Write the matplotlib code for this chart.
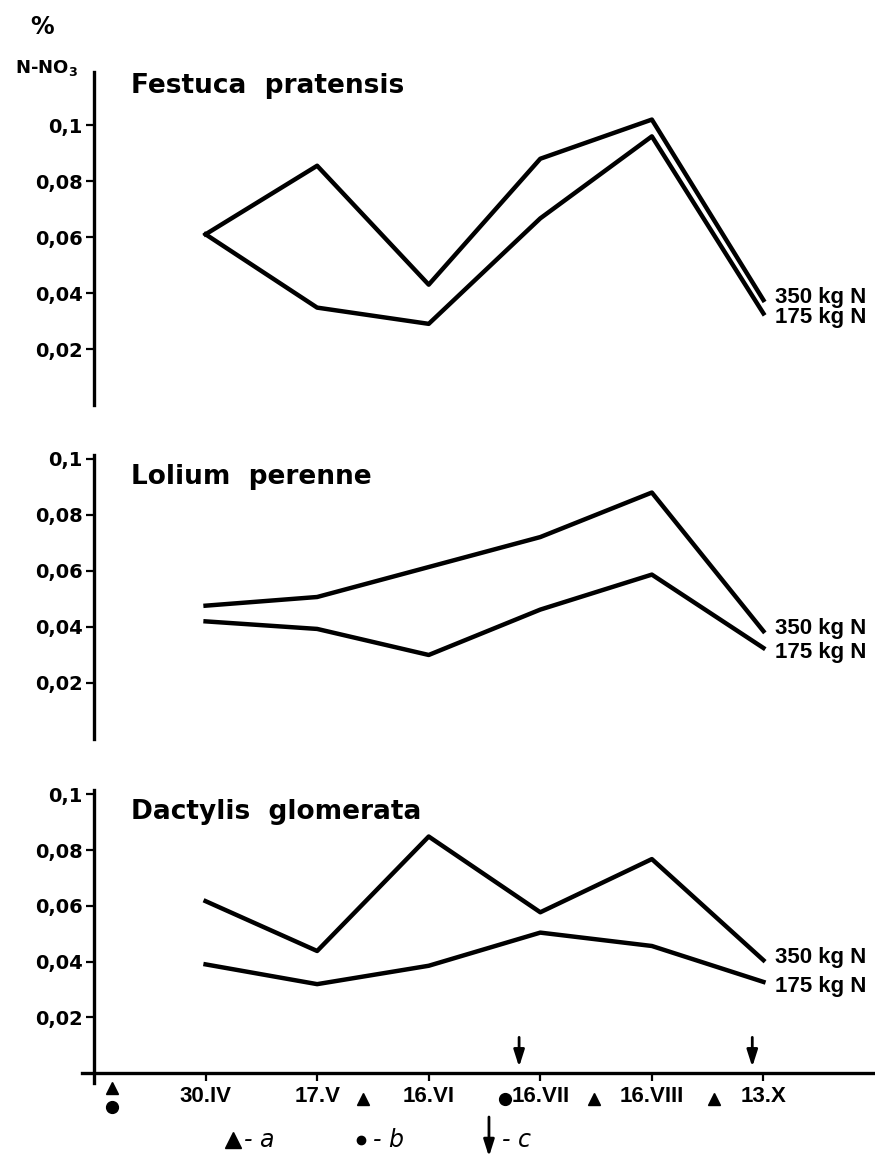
import numpy as np
import matplotlib.pyplot as plt

# harvest dates on the x axis
dates = ['30.IV', '17.V', '16.VI', '16.VII', '16.VIII', '13.X']
x_pos = [1, 2, 3, 4, 5, 6]

species = ['Festuca  pratensis', 'Lolium  perenne', 'Dactylis  glomerata']

# % N-NO3
n350 = [
    [0.061, 0.0855, 0.043, 0.088, 0.102, 0.0375],
    [0.0476, 0.0507, 0.0614, 0.0721, 0.088, 0.0385],
    [0.0617, 0.0438, 0.0849, 0.0577, 0.0768, 0.0405],
]
n175 = [
    [0.061, 0.0348, 0.029, 0.0667, 0.096, 0.0327],
    [0.042, 0.0393, 0.030, 0.0462, 0.0587, 0.0325],
    [0.039, 0.0319, 0.0385, 0.0504, 0.0456, 0.0327],
]
dose_labels = ['350 kg N', '175 kg N']

yticks = [0.02, 0.04, 0.06, 0.08, 0.1]
ytick_labels = ['0,02', '0,04', '0,06', '0,08', '0,1']

# events under the time axis (a = triangle, b = dot, c = arrow)
event_a = [0.16, 2.41, 4.48, 5.56]
event_b = [0.16, 3.68]
event_c = [3.81, 5.90]

narrow = ['Liberation Sans', 'DejaVu Sans']

W, H = 875, 1156
fig = plt.figure(figsize=(W / 100, H / 100), dpi=100)

def frac(px_x, px_y):
    return px_x / W, 1 - px_y / H

left = 94 / W
width = 1 - left
# (bottom px, top px, y top value)
panels = [(405, 72, 0.119), (739, 455, 0.1014), (1073, 790, 0.1016)]
title_y = [0.114, 0.0936, 0.0937]

axes = []
for i, (b, t, ytop) in enumerate(panels):
    ax = fig.add_axes([left, 1 - b / H, width, (b - t) / H])
    ax.set_xlim(0, 7)
    ax.set_ylim(0, ytop)
    for s in ['top', 'right', 'bottom']:
        ax.spines[s].set_visible(False)
    ax.spines['left'].set_linewidth(2.4)
    ax.set_yticks(yticks)
    ax.set_yticklabels(ytick_labels, fontsize=14, fontweight='bold')
    ax.tick_params(axis='y', length=6, width=1.6, pad=2)
    ax.set_xticks([])
    ax.set_facecolor('none')

    ax.plot(x_pos, n350[i], color='black', lw=3.2, solid_joinstyle='round')
    ax.plot(x_pos, n175[i], color='black', lw=3.2, solid_joinstyle='round')

    ax.annotate(dose_labels[0], (x_pos[-1], n350[i][-1]), xytext=(8, 2),
                textcoords='offset points', fontsize=16, va='center',
                family=narrow, fontweight='bold')
    ax.annotate(dose_labels[1], (x_pos[-1], n175[i][-1]), xytext=(8, -3),
                textcoords='offset points', fontsize=16, va='center',
                family=narrow, fontweight='bold')

    ax.text(0.33, title_y[i], species[i], fontsize=19, fontweight='bold',
            va='center', ha='left')
    axes.append(ax)

ax3 = axes[2]
ax3.spines['bottom'].set_visible(True)
ax3.spines['bottom'].set_linewidth(2.4)
ax3.spines['bottom'].set_bounds(-0.11, 7)
ax3.spines['left'].set_bounds(-0.0035, panels[2][2])
ax3.set_xticks(x_pos)
ax3.set_xticklabels(dates, fontsize=16, fontweight='bold', family=narrow)
ax3.tick_params(axis='x', length=6, width=1.6, pad=3)

# event markers under the axis
a_y = [-0.0054] + [-0.0092] * (len(event_a) - 1)
b_y = [-0.0122] + [-0.0092] * (len(event_b) - 1)
ax3.plot(event_a, a_y, ls='none', marker='^', ms=9, color='black', clip_on=False)
ax3.plot(event_b, b_y, ls='none', marker='o', ms=8.5, color='black', clip_on=False)
arrow = dict(arrowstyle='-|>,head_length=1.0,head_width=0.32', color='black', lw=2.0)
for xc in event_c:
    ax3.annotate('', xy=(xc, 0.0012), xytext=(xc, 0.0138), arrowprops=arrow)

# legend row
leg_y = -0.024
ax3.plot([1.245], [leg_y], ls='none', marker='^', ms=11, color='black', clip_on=False)
ax3.text(1.34, leg_y, '- a', fontsize=17, style='italic', va='center')
ax3.plot([2.39], [leg_y], ls='none', marker='o', ms=6, color='black', clip_on=False)
ax3.text(2.50, leg_y, '- b', fontsize=17, style='italic', va='center')
ax3.annotate('', xy=(3.54, -0.031), xytext=(3.54, -0.0148), annotation_clip=False,
             arrowprops=arrow)
ax3.text(3.66, leg_y, '- c', fontsize=17, style='italic', va='center')

# y axis caption
x, y = frac(42, 27)
fig.text(x, y, '%', fontsize=17, fontweight='bold', ha='center', va='center')
x, y = frac(46, 68)
fig.text(x, y, r'N-NO$_\mathbf{3}$', fontsize=13, fontweight='bold',
         ha='center', va='center')

fig.savefig('out.png', dpi=100)
